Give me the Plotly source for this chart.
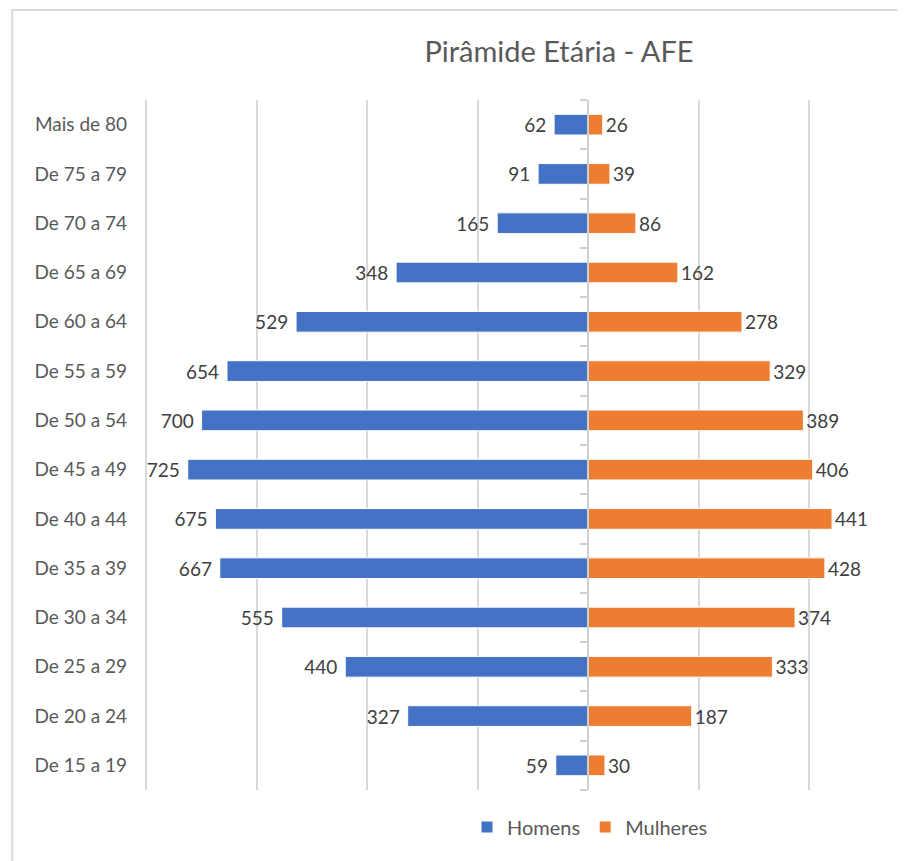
import plotly.graph_objects as go

categories = ["Mais de 80", "De 75 a 79", "De 70 a 74", "De 65 a 69", "De 60 a 64",
              "De 55 a 59", "De 50 a 54", "De 45 a 49", "De 40 a 44", "De 35 a 39",
              "De 30 a 34", "De 25 a 29", "De 20 a 24", "De 15 a 19"]
homens = [62, 91, 165, 348, 529, 654, 700, 725, 675, 667, 555, 440, 327, 59]
mulheres = [26, 39, 86, 162, 278, 329, 389, 406, 441, 428, 374, 333, 187, 30]

n = len(categories)
pos = list(range(n - 1, -1, -1))  # top to bottom

OFF = 8  # page body margin
W, H = 905 - OFF, 861 - OFF
xmin, xmax = -806, 573
SCALE = 0.5525  # px per unit
L = (588 - OFF) - (0 - xmin) * SCALE
R = W - ((588 - OFF) + xmax * SCALE)
T, B = 100 - OFF, 71
FONT = "Lato"
PW, PH = W - L - max(R, 0), H - T - B

fig = go.Figure()
fig.add_trace(go.Bar(
    y=pos, x=[-v for v in homens], orientation="h", name="Homens",
    marker=dict(color="#4472C4", line=dict(color="white", width=1)),
    text=[f"{v}\u00a0" for v in homens], textposition="outside",
    constraintext="none", cliponaxis=False,
    textfont=dict(family=FONT, size=19, color="#404040"),
    yaxis="y", hoverinfo="skip"))
fig.add_trace(go.Bar(
    y=pos, x=mulheres, orientation="h", name="Mulheres",
    marker=dict(color="#ED7D31", line=dict(color="white", width=1)),
    text=[str(v) for v in mulheres], textposition="outside",
    constraintext="none", cliponaxis=False,
    textfont=dict(family=FONT, size=19, color="#404040"),
    yaxis="y2", hoverinfo="skip"))

zero_frac = (0 - xmin) / (xmax - xmin)
yr = [-0.5, n - 0.5]

fig.update_layout(
    width=W, height=H,
    margin=dict(l=L, r=max(R, 0), t=T, b=B, autoexpand=False),
    paper_bgcolor="white", plot_bgcolor="white",
    barmode="overlay", bargap=0.58,
    title=dict(text="Pirâmide Etária - AFE", x=(559 - OFF) / W, xref="container",
               xanchor="center", y=1 - (52 - OFF) / H, yanchor="middle",
               font=dict(family=FONT, size=29, color="#595959")),
    xaxis=dict(range=[xmin, xmax], dtick=200, tick0=0, showgrid=True,
               gridcolor="#d9d9d9", gridwidth=2, zeroline=False,
               showticklabels=False, fixedrange=True),
    yaxis=dict(range=yr, tickvals=pos, ticktext=categories, showgrid=False,
               zeroline=False, showline=False, ticks="",
               tickfont=dict(family=FONT, size=19, color="#595959"),
               ticklabelstandoff=int(round(19 - (147 - OFF - L)))),
    yaxis2=dict(range=yr, overlaying="y", anchor="free", position=zero_frac,
                side="left", showgrid=False, zeroline=False, showline=True,
                linecolor="#d0d0d0", linewidth=2, ticks="outside", ticklen=7,
                tickcolor="#d0d0d0", tickwidth=2, tick0=-0.5, dtick=1,
                showticklabels=False),
    yaxis3=dict(range=yr, overlaying="y", anchor="free", position=zero_frac,
                side="left", showgrid=False, zeroline=False, showline=False,
                ticks="inside", ticklen=7, tickcolor="#d0d0d0", tickwidth=2,
                tick0=-0.5, dtick=1, showticklabels=False),
    legend=dict(orientation="h", x=(590 - OFF) / W, xref="container", xanchor="center",
                y=1 - (827 - OFF) / H, yref="container", yanchor="middle",
                font=dict(family=FONT, size=20, color="#595959"),
                itemwidth=30, traceorder="normal"),
    showlegend=True,
)

# chart frame border (light gray), partially outside view like the reference
fig.add_shape(type="rect", xref="paper", yref="paper",
              x0=(12 - OFF - L) / PW, x1=(1300 - L) / PW,
              y0=(H - B - 1000) / PH, y1=(H - B - (10 - OFF)) / PH,
              line=dict(color="#d9d9d9", width=2), fillcolor="rgba(0,0,0,0)",
              layer="below")

fig.write_html("out.html")
